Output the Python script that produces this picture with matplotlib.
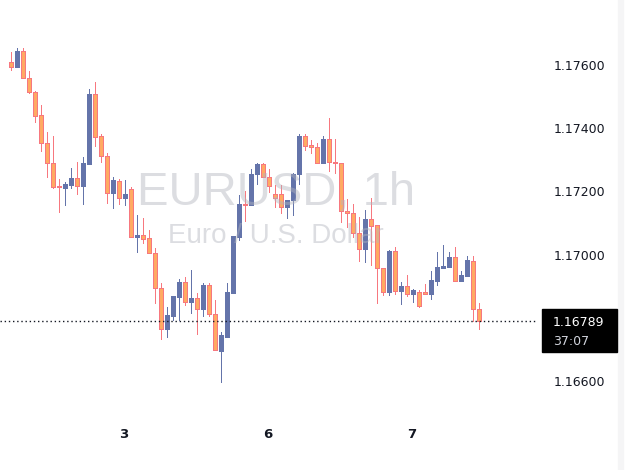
"""
Draws the EURUSD 1h candlestick snapshot and stores it as a PNG file.
"""

# Imports
import matplotlib
matplotlib.use("Agg")
import matplotlib.pyplot as plt
from matplotlib.patches import Rectangle
from matplotlib import transforms

# ----------------------------------------------------------------------------------------------------------------------
# Chart data

opens = [1.17609, 1.17594, 1.17644, 1.17559, 1.17515, 1.17442, 1.17353, 1.17290, 1.17218, 1.17211,
         1.17221, 1.17243, 1.17218, 1.17287, 1.17508, 1.17376, 1.17312, 1.17196, 1.17233, 1.17180,
         1.17208, 1.17056, 1.17063, 1.17053, 1.17006, 1.16895, 1.16763, 1.16807, 1.16867, 1.16914,
         1.16851, 1.16864, 1.16829, 1.16905, 1.16813, 1.16696, 1.16740, 1.16880, 1.17056, 1.17161,
         1.17158, 1.17256, 1.17287, 1.17246, 1.17192, 1.17192, 1.17151, 1.17173, 1.17256, 1.17376,
         1.17347, 1.17341, 1.17290, 1.17366, 1.17293, 1.17290, 1.17139, 1.17132, 1.17069, 1.17019,
         1.17113, 1.17094, 1.16959, 1.16883, 1.17012, 1.16886, 1.16902, 1.16876, 1.16883, 1.16883,
         1.16876, 1.16917, 1.16959, 1.16962, 1.16993, 1.16917, 1.16933, 1.16981, 1.16829]
highs = [1.17641, 1.17654, 1.17654, 1.17581, 1.17518, 1.17474, 1.17388, 1.17376, 1.17240, 1.17230,
         1.17274, 1.17293, 1.17309, 1.17524, 1.17546, 1.17382, 1.17322, 1.17246, 1.17240, 1.17237,
         1.17214, 1.17126, 1.17117, 1.17079, 1.17022, 1.16911, 1.16835, 1.16870, 1.16924, 1.16930,
         1.16952, 1.16880, 1.16911, 1.16911, 1.16857, 1.16756, 1.16911, 1.17060, 1.17189, 1.17202,
         1.17271, 1.17290, 1.17290, 1.17271, 1.17221, 1.17221, 1.17173, 1.17259, 1.17382, 1.17382,
         1.17363, 1.17353, 1.17376, 1.17433, 1.17366, 1.17290, 1.17177, 1.17161, 1.17120, 1.17142,
         1.17180, 1.17094, 1.16959, 1.17015, 1.17025, 1.16914, 1.16936, 1.16892, 1.16889, 1.16908,
         1.16949, 1.17009, 1.17031, 1.17009, 1.17025, 1.16949, 1.16996, 1.16996, 1.16848]
lows = [1.17584, 1.17594, 1.17559, 1.17511, 1.17420, 1.17328, 1.17246, 1.17211, 1.17135, 1.17158,
        1.17211, 1.17192, 1.17161, 1.17287, 1.17344, 1.17293, 1.17164, 1.17148, 1.17161, 1.17158,
        1.17056, 1.17009, 1.17038, 1.17006, 1.16848, 1.16734, 1.16740, 1.16794, 1.16794, 1.16842,
        1.16816, 1.16750, 1.16807, 1.16807, 1.16699, 1.16598, 1.16740, 1.16880, 1.17047, 1.17107,
        1.17158, 1.17224, 1.17246, 1.17199, 1.17151, 1.17132, 1.17117, 1.17126, 1.17224, 1.17331,
        1.17322, 1.17290, 1.17290, 1.17265, 1.17259, 1.17104, 1.17088, 1.17056, 1.16981, 1.16977,
        1.16968, 1.16848, 1.16873, 1.16873, 1.16876, 1.16845, 1.16870, 1.16851, 1.16835, 1.16876,
        1.16861, 1.16905, 1.16959, 1.16962, 1.16917, 1.16917, 1.16933, 1.16791, 1.16766]
closes = [1.17594, 1.17644, 1.17559, 1.17515, 1.17439, 1.17353, 1.17290, 1.17214, 1.17214, 1.17224,
          1.17243, 1.17218, 1.17290, 1.17508, 1.17372, 1.17312, 1.17196, 1.17237, 1.17180, 1.17192,
          1.17056, 1.17063, 1.17050, 1.17006, 1.16895, 1.16763, 1.16810, 1.16870, 1.16914, 1.16851,
          1.16864, 1.16829, 1.16905, 1.16813, 1.16699, 1.16744, 1.16883, 1.17060, 1.17161, 1.17158,
          1.17256, 1.17287, 1.17246, 1.17218, 1.17180, 1.17151, 1.17173, 1.17256, 1.17376, 1.17344,
          1.17341, 1.17290, 1.17366, 1.17293, 1.17290, 1.17139, 1.17132, 1.17069, 1.17019, 1.17113,
          1.17091, 1.16959, 1.16883, 1.17012, 1.16886, 1.16902, 1.16876, 1.16889, 1.16838, 1.16876,
          1.16921, 1.16962, 1.16965, 1.16993, 1.16917, 1.16936, 1.16984, 1.16829, 1.16789]

dayLabels = ["3", "6", "7"]
dayIndex = [19, 43, 67]
priceTicks = [1.166, 1.170, 1.172, 1.174, 1.176]
lastPrice = 1.16789
countdown = "37:07"
symbolTitle = "EURUSD, 1h"
symbolName = "Euro / U.S. Dollar"

# Colours
bullColor = "#6474AA"
bearFill = "#FFAA62"
bearEdge = "#F7787F"
textColor = "#131722"

# ----------------------------------------------------------------------------------------------------------------------


def plotCandles(filePath="out.png"):
    """
    Plots the candles, the price scale, the watermark and the last price label, then saves the image.

    :param filePath: Name of the image to store.
    :return: void
    """

    W, H = 629.0, 470.0
    pxPerUnit = 31600.0
    fig = plt.figure(figsize=(W / 100, H / 100), dpi=100, facecolor="white")

    # Plot area: top 410 px of the figure, right edge at 538 px
    ax = fig.add_axes([0, 60 / H, 538 / W, 410 / H])
    yMax = 1.176 + 65 / pxPerUnit
    ax.set_ylim(yMax - 410 / pxPerUnit, yMax)
    ax.set_xlim(-11 / 6.0, 527 / 6.0)
    for side in ax.spines.values():
        side.set_visible(False)

    # Faint edge strip on the right
    fig.add_artist(Rectangle((618 / W, 0), 5 / W, 1, transform=fig.transFigure,
                             color="#F5F5F6", zorder=0))

    # Load data: wick first, then the body on top
    xs = list(range(len(opens)))
    minHeight = 1 / pxPerUnit
    for i in xs:
        o, h, l, c = opens[i], highs[i], lows[i], closes[i]
        bull = c >= o
        wickColor = bullColor if bull else bearEdge
        ax.vlines(i, l, h, colors=wickColor, linewidth=0.72, antialiased=False, zorder=2)
        ax.bar(i, max(abs(c - o), minHeight), bottom=min(o, c), width=0.68,
               facecolor=bullColor if bull else bearFill,
               edgecolor=bullColor if bull else bearEdge, linewidth=0.72,
               antialiased=False, zorder=3)

    # Last price line
    ax.axhline(lastPrice, color=textColor, linestyle=(0, (1, 2)), linewidth=1.0, zorder=4)

    # Price scale
    ax.yaxis.tick_right()
    ax.set_yticks(priceTicks)
    ax.set_yticklabels(["%.5f" % p for p in priceTicks])
    ax.tick_params(axis="y", length=0, pad=11, labelsize=9, labelcolor=textColor)
    ax.set_xticks([])

    # Day labels
    dayTrans = transforms.blended_transform_factory(ax.transData, fig.transFigure)
    for idx, label in zip(dayIndex, dayLabels):
        ax.text(idx - 0.25, 1 - 438 / H, label, transform=dayTrans, ha="center", va="baseline",
                fontsize=9.5, fontweight="bold", color=textColor, clip_on=False)

    # Watermark
    fig.text(276 / W, 1 - 205 / H, symbolTitle, ha="center", va="baseline", fontsize=34,
             family="Liberation Sans", color="#B2B5BE", alpha=0.45, zorder=10)
    fig.text(276 / W, 1 - 243 / H, symbolName, ha="center", va="baseline", fontsize=20,
             family="Liberation Sans", color="#B2B5BE", alpha=0.45, zorder=10)

    # Last price label
    fig.canvas.draw()
    yPix = ax.transData.transform((0, lastPrice))[1]
    fig.add_artist(Rectangle((542 / W, (yPix - 31) / H), 75 / W, 43 / H, transform=fig.transFigure,
                             color="black", zorder=11))
    fig.text(553 / W, yPix / H, "%.5f" % lastPrice, ha="left", va="center_baseline", fontsize=9,
             color="white", zorder=12)
    fig.text(553 / W, (yPix - 19) / H, countdown, ha="left", va="center_baseline", fontsize=9,
             color="#D1D4DC", zorder=12)

    # Save graph as PNG file
    fig.savefig(filePath, dpi=100, facecolor="white")
    plt.close(fig)

# ----------------------------------------------------------------------------------------------------------------------


if __name__ == "__main__":
    plotCandles()
